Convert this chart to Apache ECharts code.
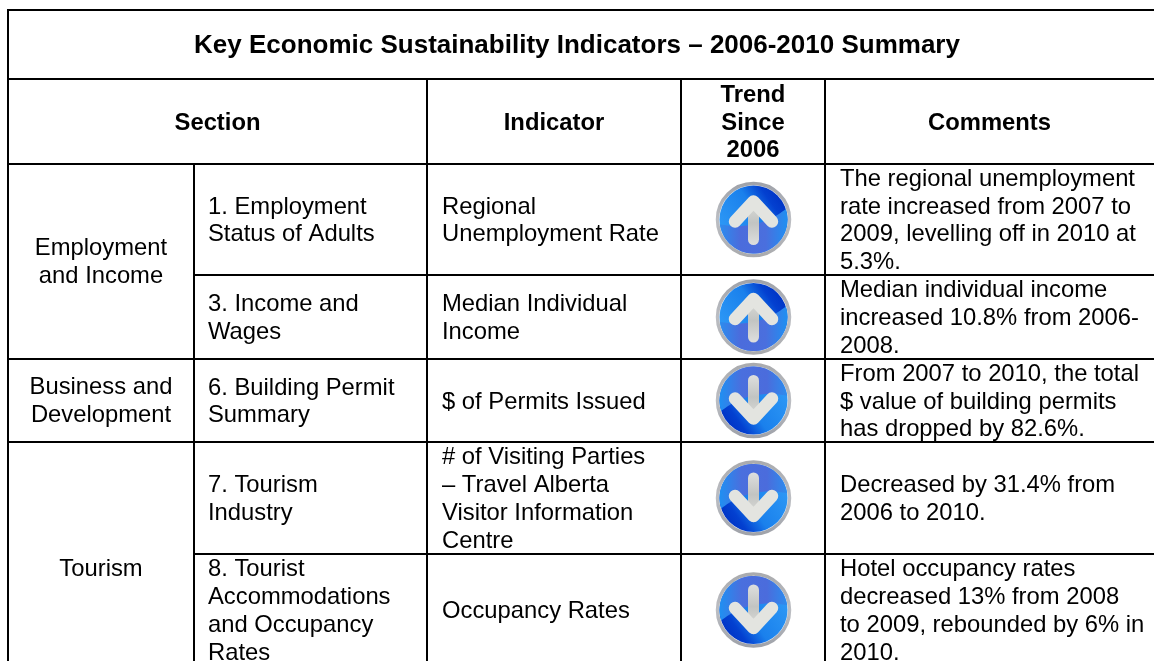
<!DOCTYPE html>
<html>
<head>
<meta charset="utf-8">
<style>
  html, body { margin: 0; padding: 0; background: #fff; }
  #chart { width: 1154px; height: 661px; }
</style>
<script src="https://cdn.jsdelivr.net/npm/echarts@6/dist/echarts.min.js"></script>
</head>
<body>
<div id="chart"></div>
<script>
const tableTitle = 'Key Economic Sustainability Indicators – 2006-2010 Summary'
const headers = ['Section', 'Indicator', 'Trend\nSince\n2006', 'Comments']
const sections = ['Employment\nand Income', 'Business and\nDevelopment', 'Tourism']
const subSections = [
  '1. Employment\nStatus of Adults',
  '3. Income and\nWages',
  '6. Building Permit\nSummary',
  '7. Tourism\nIndustry',
  '8. Tourist\nAccommodations\nand Occupancy\nRates',
]
const indicators = [
  'Regional\nUnemployment Rate',
  'Median Individual\nIncome',
  '$ of Permits Issued',
  '# of Visiting Parties\n– Travel Alberta\nVisitor Information\nCentre',
  'Occupancy Rates',
]
const trends = ['up', 'up', 'down', 'down', 'down']
const comments = [
  'The regional unemployment\nrate increased from 2007 to\n2009, levelling off in 2010 at\n5.3%.',
  'Median individual income\nincreased 10.8% from 2006-\n2008.',
  'From 2007 to 2010, the total\n$ value of building permits\nhas dropped by 82.6%.',
  'Decreased by 31.4% from\n2006 to 2010.',
  'Hotel occupancy rates\ndecreased 13% from 2008\nto 2009, rebounded by 6% in\n2010.',
]

// table layout, in page pixels
const colX = [8, 194, 427, 681, 825, 1154]
const rowY = [164, 275, 359, 442, 554, 666]
const titleTop = 10
const titleBottom = 79
const sectionMid = [261, 400, 568]

const FONT = '"Liberation Sans", Arial, sans-serif'
const BODY_SIZE = 23.8
const TITLE_SIZE = 26
const LINE_H = 27.8
const TEXT_DY = 1.5

const chart = echarts.init(document.getElementById('chart'))

const mid = (a, b) => (a + b) / 2

// rule segments of the table: [x1, y1, x2, y2]
const rules = [
  [colX[0], titleTop, 1154, titleTop],
  [colX[0], titleBottom, 1154, titleBottom],
  [colX[0], rowY[0], 1154, rowY[0]],
  [colX[0], titleTop - 1, colX[0], 661],
  [colX[1], rowY[0], colX[1], 661],
  [colX[2], titleBottom, colX[2], 661],
  [colX[3], titleBottom, colX[3], 661],
  [colX[4], titleBottom, colX[4], 661],
  [colX[1], rowY[1], 1154, rowY[1]],
  [colX[0], rowY[2], 1154, rowY[2]],
  [colX[0], rowY[3], 1154, rowY[3]],
  [colX[1], rowY[4], 1154, rowY[4]],
]

// text cells: [x, y, text, align, bold, size]
const cells = [
  [577, mid(titleTop, titleBottom), tableTitle, 'center', 1, TITLE_SIZE],
  [mid(colX[0], colX[2]), mid(titleBottom, rowY[0]), headers[0], 'center', 1, BODY_SIZE],
  [mid(colX[2], colX[3]), mid(titleBottom, rowY[0]), headers[1], 'center', 1, BODY_SIZE],
  [mid(colX[3], colX[4]), mid(titleBottom, rowY[0]), headers[2], 'center', 1, BODY_SIZE],
  [mid(colX[4], colX[5]), mid(titleBottom, rowY[0]), headers[3], 'center', 1, BODY_SIZE],
]
sections.forEach((s, i) => cells.push([mid(colX[0], colX[1]), sectionMid[i], s, 'center', 0, BODY_SIZE]))
subSections.forEach((s, i) => {
  const y = mid(rowY[i], rowY[i + 1])
  cells.push([colX[1] + 14, y, s, 'left', 0, BODY_SIZE])
  cells.push([colX[2] + 15, y, indicators[i], 'left', 0, BODY_SIZE])
  cells.push([colX[4] + 15, y, comments[i], 'left', 0, BODY_SIZE])
})

// trend badge, drawn pointing up and turned over for 'down'
const R_RING = 36
const R_FACE = 34
const glossArea = () => {
  const pts = []
  const from = -18 * Math.PI / 180
  const to = 172 * Math.PI / 180
  for (let k = 0; k <= 40; k++) {
    const a = from + (to - from) * k / 40
    pts.push([R_FACE * Math.cos(a), R_FACE * Math.sin(a)])
  }
  const p0 = pts[pts.length - 1]
  const p2 = pts[0]
  const c = [4, 12]
  for (let k = 1; k < 30; k++) {
    const t = k / 30
    pts.push([
      (1 - t) * (1 - t) * p0[0] + 2 * t * (1 - t) * c[0] + t * t * p2[0],
      (1 - t) * (1 - t) * p0[1] + 2 * t * (1 - t) * c[1] + t * t * p2[1],
    ])
  }
  return pts
}
const linear = (x, y, x2, y2, stops) => new echarts.graphic.LinearGradient(
  x, y, x2, y2, stops.map(([offset, color]) => ({ offset, color })))

const badge = (cx, cy, dir) => ({
  type: 'group',
  x: cx,
  y: cy,
  rotation: dir === 'down' ? Math.PI : 0,
  children: [
    {
      type: 'circle',
      shape: { cx: 0, cy: 0, r: R_RING },
      style: {
        fill: '#fff',
        lineWidth: 3.5,
        stroke: linear(0, 0, 0, 1, [[0, '#9ea1a8'], [0.5, '#bcbec3'], [1, '#a9aaad']]),
      },
    },
    {
      type: 'circle',
      shape: { cx: 0, cy: 0, r: R_FACE },
      style: {
        fill: linear(0.1, 0.7, 0.9, 0.15, [[0, '#2c97f5'], [0.55, '#1a80ec'], [0.82, '#0340d0'], [1, '#0033c4']]),
      },
    },
    {
      type: 'polygon',
      shape: { points: glossArea() },
      style: {
        fill: linear(0, 0, 1, 0, [[0, '#2c8cee'], [0.3, '#4b6cdc'], [0.68, '#4a6fde'], [1, '#1f90f2']]),
      },
    },
    {
      type: 'polyline',
      shape: { points: [[0, -18], [0, 20]] },
      style: {
        fill: 'none',
        lineWidth: 11,
        lineCap: 'round',
        stroke: linear(0, 0, 0, 1, [[0, '#e2e3df'], [0.55, '#c2c4c2'], [1, '#dedfde']]),
      },
    },
    {
      type: 'polyline',
      shape: { points: [[-18.5, 2], [0, -18], [18.5, 2]] },
      style: {
        fill: 'none',
        lineWidth: 12.5,
        lineCap: 'round',
        lineJoin: 'round',
        stroke: '#e3e4e0',
      },
    },
  ],
})

const renderRule = (params, api) => {
  const a = api.coord([api.value(0), api.value(1)])
  const b = api.coord([api.value(2), api.value(3)])
  return {
    type: 'line',
    shape: { x1: a[0], y1: a[1], x2: b[0], y2: b[1] },
    style: { stroke: '#000', lineWidth: 2 },
  }
}

const renderCell = (params, api) => {
  const c = cells[params.dataIndex]
  const p = api.coord([c[0], c[1] + TEXT_DY])
  return {
    type: 'text',
    x: p[0],
    y: p[1],
    style: {
      text: c[2],
      fill: '#000',
      align: c[3],
      verticalAlign: 'middle',
      lineHeight: LINE_H,
      font: `${c[4] ? 'bold ' : ''}${c[5]}px ${FONT}`,
    },
  }
}

const renderTrend = (params, api) => {
  const i = params.dataIndex
  const p = api.coord([mid(colX[3], colX[4]) + 0.5, mid(rowY[i], rowY[i + 1])])
  return badge(p[0], p[1], trends[i])
}

chart.setOption({
  animation: false,
  backgroundColor: '#fff',
  grid: { left: 0, right: 0, top: 0, bottom: 0 },
  xAxis: { type: 'value', min: 0, max: 1154, show: false },
  yAxis: { type: 'value', min: 0, max: 661, inverse: true, show: false },
  series: [
    { name: 'rules', type: 'custom', renderItem: renderRule, data: rules, silent: true },
    {
      name: 'cells',
      type: 'custom',
      renderItem: renderCell,
      data: cells.map((c) => [c[0], c[1]]),
      silent: true,
    },
    {
      name: 'trend',
      type: 'custom',
      renderItem: renderTrend,
      data: trends.map((t, i) => [i, t === 'up' ? 1 : -1]),
      silent: true,
    },
  ],
})
</script>
</body>
</html>
